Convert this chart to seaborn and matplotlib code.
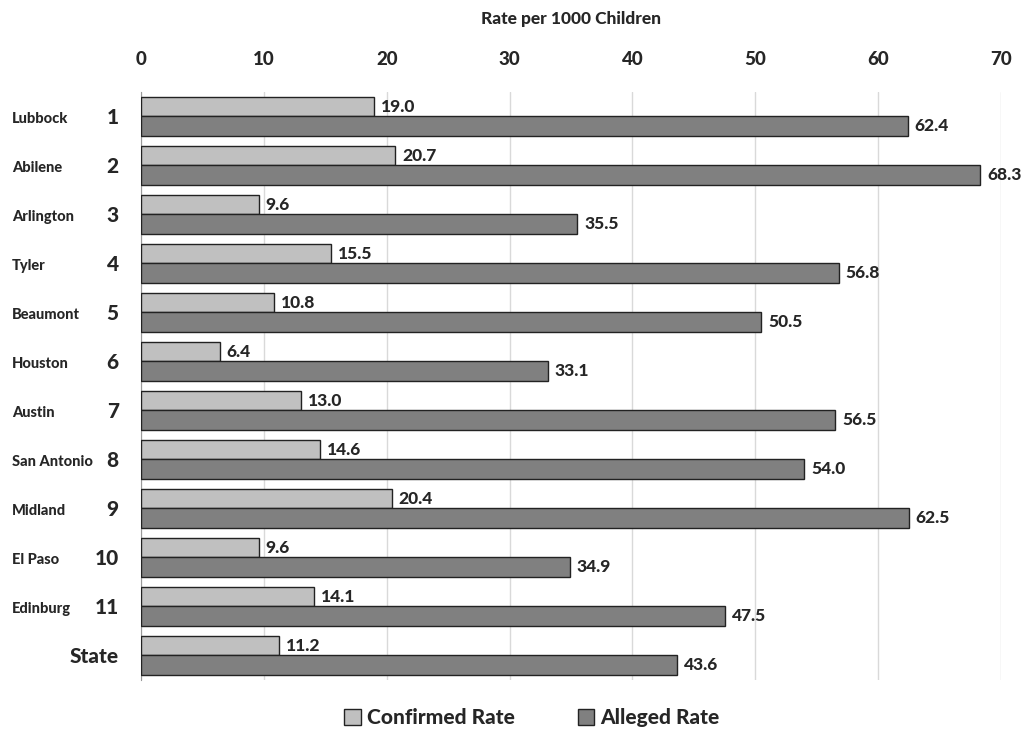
import pandas as pd
import numpy as np
import matplotlib
matplotlib.use('Agg')
import matplotlib.pyplot as plt
import seaborn as sns

# data
regions = ['1', '2', '3', '4', '5', '6', '7', '8', '9', '10', '11', 'State']
cities = ['Lubbock', 'Abilene', 'Arlington', 'Tyler', 'Beaumont', 'Houston',
          'Austin', 'San Antonio', 'Midland', 'El Paso', 'Edinburg', '']
confirmed = [19.0, 20.7, 9.6, 15.5, 10.8, 6.4, 13.0, 14.6, 20.4, 9.6, 14.1, 11.2]
alleged = [62.4, 68.3, 35.5, 56.8, 50.5, 33.1, 56.5, 54.0, 62.5, 34.9, 47.5, 43.6]
series = ['Confirmed Rate', 'Alleged Rate']
colors = ['#C0C0C0', '#808080']

df = pd.DataFrame({
    'Region': regions * 2,
    'Rate': confirmed + alleged,
    'Type': [series[0]] * len(regions) + [series[1]] * len(regions),
})

sns.set_style('white')
plt.rcParams['font.family'] = ['Lato', 'DejaVu Sans']
W = 'black'  # heavy weight for all text

fig = plt.figure(figsize=(10.23, 7.36), dpi=100)
ax = fig.add_axes([0.1378, 0.0761, 0.8407, 0.7989])

sns.barplot(data=df, y='Region', x='Rate', hue='Type', order=regions,
            hue_order=series, palette=colors, orient='h', width=0.8,
            edgecolor='#222222', linewidth=1.0, ax=ax, zorder=3)

for cont in ax.containers:
    ax.bar_label(cont, fmt='%.1f', padding=5, fontsize=12.5, fontweight=W)

ax.set_xlim(0, 70)
ax.set_ylim(len(regions) - 0.5, -0.5)
ax.xaxis.tick_top()
ax.xaxis.set_label_position('top')
ax.set_xticks(np.arange(0, 71, 10))
ax.tick_params(axis='x', length=0, pad=17, labelsize=13.5)
for lbl in ax.get_xticklabels():
    lbl.set_fontweight(W)
ax.set_xlabel('Rate per 1000 Children', fontsize=12.5, fontweight=W, labelpad=20)
ax.set_ylabel('')
ax.grid(axis='x', color='#D9D9D9', linewidth=1.0, zorder=0)
ax.set_axisbelow(True)

# y ticks: region numbers, group boundary tick marks
ax.set_yticks(range(len(regions)))
ax.set_yticklabels(regions)
ax.tick_params(axis='y', length=0, pad=16, labelsize=15)
for lbl in ax.get_yticklabels():
    lbl.set_fontweight(W)
ax.set_yticks(np.arange(-0.5, len(regions), 1), minor=True)
ax.tick_params(axis='y', which='minor', length=6, color='#999999', width=1)

for i, c in enumerate(cities):
    ax.text(0.0117, i + 0.05, c, ha='left', va='center', fontsize=10.5,
            fontweight=W, transform=ax.get_yaxis_transform().__class__(fig.transFigure, ax.transData))

for side in ['top', 'right', 'bottom']:
    ax.spines[side].set_visible(False)
ax.spines['left'].set_color('#999999')

handles, labels = ax.get_legend_handles_labels()
ax.get_legend().remove()
fig.legend(handles, labels, loc='center', bbox_to_anchor=(0.52, 0.0245),
           ncol=2, frameon=False, handlelength=0.8, handleheight=0.8,
           handletextpad=0.3, columnspacing=3.0,
           prop={'weight': W, 'size': 15})

fig.savefig('out.png', dpi=100)
